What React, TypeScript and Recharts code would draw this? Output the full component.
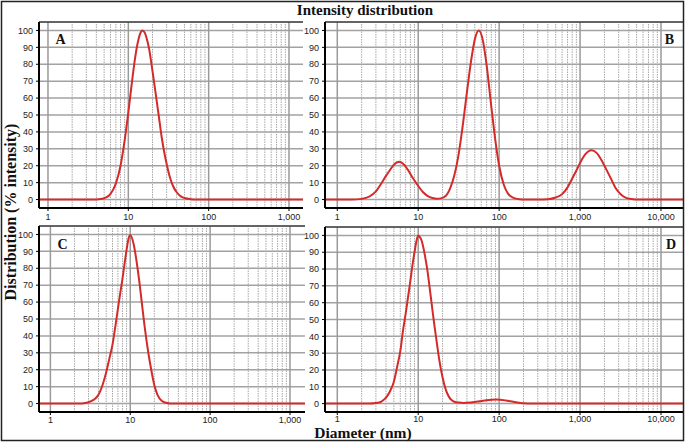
import { LineChart, Line, XAxis, YAxis, CartesianGrid, ReferenceLine } from 'recharts';

// panel A: single peak around 15 nm
const diamA = [0.773, 1, 2, 3, 4, 4.5, 5, 5.5, 6, 6.5, 7, 8, 9, 10, 11, 12, 13, 14, 15, 16, 17, 18, 20, 22, 24, 26, 28, 30, 33, 36, 40, 45, 50, 60, 70, 100, 1000, 1494];
const intensityA = [0, 0, 0, 0, 0.1, 0.3, 0.8, 1.7, 3.4, 6, 9.6, 20, 35, 51.5, 68, 82, 92, 98, 100, 98.7, 95, 90, 76, 62, 49, 37, 28, 21, 13, 8, 4.3, 1.9, 0.9, 0.2, 0, 0, 0, 0];

// panel B: three peaks (~6, ~56, ~1400 nm)
const diamB = [0.705, 1, 1.5, 2, 2.5, 3, 3.5, 4, 4.5, 5, 5.8, 6.5, 7.5, 8.5, 10, 11.5, 13, 15, 17, 19, 22, 25, 28, 31, 35, 40, 45, 50, 56, 63, 70, 80, 90, 100, 115, 130, 150, 180, 200, 300, 400, 500, 600, 700, 800, 900, 1000, 1150, 1380, 1600, 1850, 2100, 2400, 2800, 3200, 3700, 4500, 5000, 10000, 18700];
const intensityB = [0, 0, 0, 0.4, 1.8, 4.8, 9.5, 14, 17.6, 20.6, 22.3, 21.2, 17.4, 13, 8, 4.3, 2.2, 0.9, 0.5, 0.7, 2.2, 7, 14.5, 24.5, 41.5, 63.5, 82, 94.7, 100, 94, 79.5, 55, 34.6, 20, 8.3, 3.2, 1, 0.15, 0, 0, 0.2, 1.2, 3.2, 7.2, 12.4, 17.2, 21.6, 26.5, 29.2, 27.6, 23.1, 18, 12.5, 6.2, 3, 1, 0.2, 0, 0, 0];

// panel C: single peak around 10 nm
const diamC = [0.72, 1, 2, 2.5, 3, 3.5, 4, 4.5, 5, 5.5, 6, 6.5, 7, 7.5, 8, 8.5, 9, 9.5, 10, 11, 12, 13, 14, 15, 16, 17, 18, 20, 22, 25, 28, 32, 40, 100, 1000, 1541];
const intensityC = [0, 0, 0, 0.1, 0.8, 2.3, 5.2, 11, 18.5, 27, 35, 45.5, 56, 65.5, 74, 83, 91, 97.5, 99.5, 94.5, 84, 72, 59, 47, 37, 28.7, 21.9, 11, 5, 1.5, 0.5, 0, 0, 0, 0, 0];

// panel D: main peak at 10 nm, small bump near 90 nm
const diamD = [0.705, 1, 2, 2.5, 3, 3.5, 4, 4.5, 5, 5.5, 6, 6.5, 7, 7.5, 8, 8.5, 9, 9.5, 10, 10.5, 11, 11.5, 12, 13, 14, 15, 16, 17, 18, 20, 22, 24, 26, 28, 32, 36, 45, 55, 70, 92, 120, 150, 200, 250, 1000, 18700];
const intensityD = [0, 0, 0, 0, 0.3, 1.2, 3.5, 7.5, 13, 22, 31, 43.7, 53.5, 63.6, 73, 82.5, 90, 96.5, 100, 99, 97, 93.4, 89, 79, 67, 55.5, 45, 36, 27.5, 15.5, 8, 4, 2, 1.1, 0.6, 0.4, 0.7, 1.2, 2, 2.4, 1.9, 1.1, 0.2, 0, 0, 0];

const yTicks = [0, 10, 20, 30, 40, 50, 60, 70, 80, 90, 100];
const xTicksShort = [1, 10, 100, 1000];
const xTicksLong = [1, 10, 100, 1000, 10000];

const tickFont = { fontSize: 9, fill: '#222', fontFamily: 'Liberation Sans' };

interface Box { x: number; y: number; w: number; h: number }

interface PanelProps {
  box: Box;
  domain: [number, number];
  ticks: number[];
  diam: number[];
  values: number[];
  labelGap: number;
}

const Panel = ({ box, domain, ticks, diam, values, labelGap }: PanelProps) => {
  const yW = 34;
  const pad = 2;
  const xH = 22;
  const data = diam.map((d, i) => ({ d, v: values[i] }));
  const minors = ticks
    .flatMap((m) => [2, 3, 4, 5, 6, 7, 8, 9].map((k) => m * k))
    .filter((v) => v < domain[1]);

  return (
    <div style={{ position: 'absolute', left: box.x - yW, top: box.y - pad }}>
      <LineChart
        width={yW + box.w + pad}
        height={pad + box.h + xH}
        data={data}
        margin={{ top: pad, right: pad, bottom: 0, left: 0 }}
      >
        <CartesianGrid vertical={false} stroke="#a2a2a2" strokeWidth={1.5} />
        {minors.map((v) => (
          <ReferenceLine key={'m' + v} x={v} stroke="#a8a8a8" strokeDasharray="1.5 1" />
        ))}
        {ticks.map((v) => (
          <ReferenceLine key={'M' + v} x={v} stroke="#9a9a9a" strokeWidth={1.5} />
        ))}
        <ReferenceLine y={105} stroke="#111" />
        <XAxis
          dataKey="d"
          type="number"
          scale="log"
          domain={domain}
          allowDataOverflow
          ticks={ticks}
          interval={0}
          height={xH}
          tickSize={3}
          tickMargin={labelGap}
          tickFormatter={(v: number) => v.toLocaleString('en-US')}
          axisLine={{ stroke: '#000', strokeWidth: 2 }}
          tickLine={{ stroke: '#000' }}
          tick={tickFont}
        />
        <YAxis
          type="number"
          domain={[-5, 105]}
          ticks={yTicks}
          interval={0}
          width={yW}
          tickSize={3}
          tickMargin={3}
          axisLine={{ stroke: '#000', strokeWidth: 2 }}
          tickLine={{ stroke: '#000' }}
          tick={tickFont}
        />
        <Line
          dataKey="v"
          type="monotone"
          stroke="#d42a2a"
          strokeWidth={2}
          dot={false}
          isAnimationActive={false}
        />
      </LineChart>
    </div>
  );
};

const serif = 'Liberation Serif';

export default function App() {
  return (
    <div style={{ position: 'absolute', left: 0, top: 0, width: 685, height: 443, background: '#fff' }}>
      <Panel box={{ x: 39, y: 22, w: 264, h: 186 }} domain={[0.773, 1494]} ticks={xTicksShort} diam={diamA} values={intensityA} labelGap={3} />
      <Panel box={{ x: 325, y: 22, w: 358, h: 186 }} domain={[0.705, 18700]} ticks={xTicksLong} diam={diamB} values={intensityB} labelGap={3} />
      <Panel box={{ x: 39, y: 226, w: 266, h: 186 }} domain={[0.72, 1541]} ticks={xTicksShort} diam={diamC} values={intensityC} labelGap={2} />
      <Panel box={{ x: 325, y: 227, w: 358, h: 185 }} domain={[0.705, 18700]} ticks={xTicksLong} diam={diamD} values={intensityD} labelGap={1} />
      <svg width={685} height={443} style={{ position: 'absolute', left: 0, top: 0, pointerEvents: 'none' }}>
        <rect x={1.5} y={1.5} width={682} height={439} fill="none" stroke="#222" strokeWidth={1.5} />
        <text x={365} y={15} textAnchor="middle" fontFamily={serif} fontWeight="bold" fontSize={15} fill="#111">
          Intensity distribution
        </text>
        <text transform="translate(16,212) rotate(-90)" textAnchor="middle" fontFamily={serif} fontWeight="bold" fontSize={16} fill="#111">
          Distribution (% intensity)
        </text>
        <text x={363} y={438} textAnchor="middle" fontFamily={serif} fontWeight="bold" fontSize={15.5} fill="#111">
          Diameter (nm)
        </text>
        <text x={60.5} y={44} textAnchor="middle" fontFamily={serif} fontWeight="bold" fontSize={14} fill="#111">A</text>
        <text x={669.5} y={43.5} textAnchor="middle" fontFamily={serif} fontWeight="bold" fontSize={14} fill="#111">B</text>
        <text x={62.5} y={249} textAnchor="middle" fontFamily={serif} fontWeight="bold" fontSize={14} fill="#111">C</text>
        <text x={671} y={248.5} textAnchor="middle" fontFamily={serif} fontWeight="bold" fontSize={14} fill="#111">D</text>
      </svg>
    </div>
  );
}
